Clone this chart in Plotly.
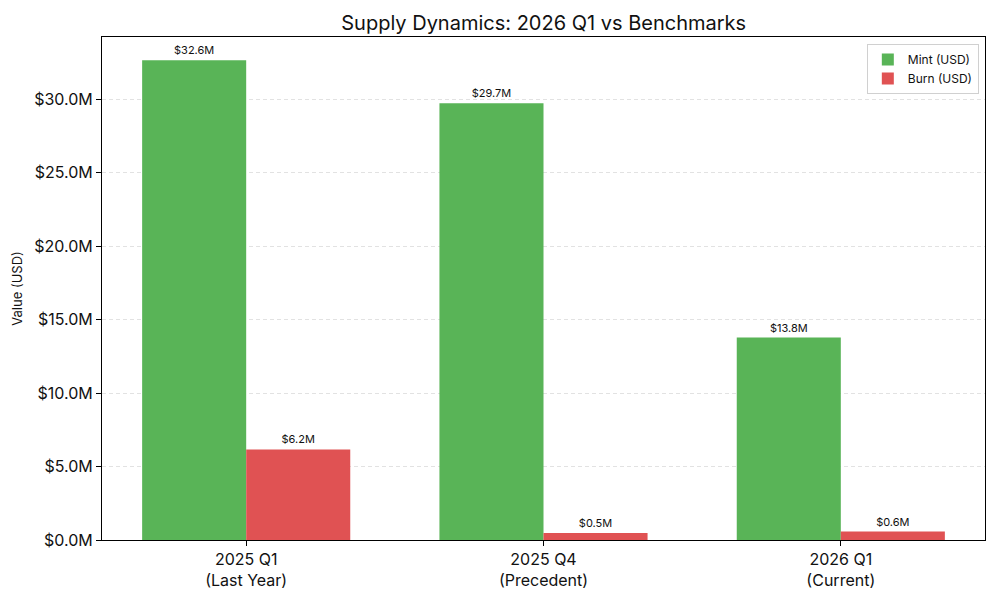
import plotly.graph_objects as go

categories = ["2025 Q1<br>(Last Year)", "2025 Q4<br>(Precedent)", "2026 Q1<br>(Current)"]
mint_values = [32.64, 29.72, 13.78]
burn_values = [6.16, 0.47, 0.57]
y_ticks = [0, 5, 10, 15, 20, 25, 30]
y_tick_labels = ["$%.1fM" % v for v in y_ticks]

FONT = "Inter, Roboto, Open Sans, sans-serif"
idx = list(range(len(categories)))

fig = go.Figure()
fig.add_trace(go.Bar(
    x=idx, y=mint_values, width=0.35, offset=-0.35, name="Mint (USD)",
    marker=dict(color="#59b457", line=dict(width=0)),
    text=["$%.1fM" % v for v in mint_values], textposition="outside",
    textfont=dict(size=11, color="#111", family=FONT), cliponaxis=False,
))
fig.add_trace(go.Bar(
    x=idx, y=burn_values, width=0.35, offset=0, name="Burn (USD)",
    marker=dict(color="#e05253", line=dict(width=0)),
    text=["$%.1fM" % v for v in burn_values], textposition="outside",
    textfont=dict(size=11, color="#111", family=FONT), cliponaxis=False,
))

fig.update_layout(
    width=992, height=592,
    margin=dict(l=94, r=15, t=29, b=60, autoexpand=False),
    paper_bgcolor="white", plot_bgcolor="white",
    font=dict(family=FONT, color="#111"),
    title=dict(text="Supply Dynamics: 2026 Q1 vs Benchmarks", x=0.540, xanchor="center",
               y=0.974, yanchor="middle", font=dict(size=20, color="#111", family=FONT)),
    barmode="overlay",
    showlegend=True,
    legend=dict(x=0.993, y=0.986, xanchor="right", yanchor="top",
                bordercolor="#d0d0d0", borderwidth=1, bgcolor="rgba(255,255,255,0.8)",
                font=dict(size=12, color="#111", family=FONT), tracegroupgap=0),
    xaxis=dict(range=[-0.485, 2.485], tickmode="array", tickvals=idx, ticktext=categories,
               ticks="outside", ticklen=5, tickcolor="black", showgrid=False,
               showline=True, linecolor="black", linewidth=1, mirror=True, automargin=False,
               tickfont=dict(size=16, color="#111", family=FONT), zeroline=False),
    yaxis=dict(range=[0, 34.23], tickmode="array", tickvals=y_ticks, ticktext=y_tick_labels,
               ticks="outside", ticklen=5, tickcolor="black", automargin=False,
               showgrid=True, gridcolor="#e2e2e2", griddash="4px,3px", gridwidth=1,
               showline=True, linecolor="black", linewidth=1, mirror=True,
               tickfont=dict(size=16, color="#111", family=FONT), zeroline=False,
               title=dict(text="Value (USD)", font=dict(size=13, color="#111", family=FONT), standoff=8)),
)

fig.write_html("out.html")
